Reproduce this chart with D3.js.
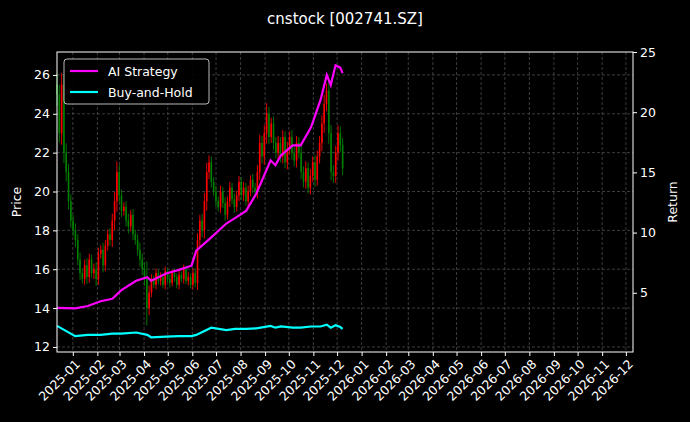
<!DOCTYPE html>
<html><head><meta charset="utf-8">
<script src="https://cdn.jsdelivr.net/npm/d3@7"></script>
<style>body{margin:0;background:#000}svg{font-family:"DejaVu Sans",sans-serif}</style>
</head><body><svg id="c" width="690" height="422"></svg>
<script>
const title = "cnstock [002741.SZ]";
const firstDay = "2024-12-12", lastDay = "2025-12-08";
const closes = [25,23,25.5,22,21,19.5,18.5,18,17.5,16.5,15.8,15.5,16.2,15.6,16.5,15.8,16,15.5,16.8,17,16.2,17.2,17.8,17.5,18.5,19.5,21,19.8,19,19.2,18.5,18.2,18.8,17.8,17.5,17,16.5,16,15.5,14,14.8,15.5,15.2,15.8,15.4,15.6,15.2,15.9,15.5,15.3,15.8,15.6,15.2,15.7,15.5,16,15.4,15.6,15.2,15.8,15.3,17.5,18.5,18,19.5,21,21.5,20.5,20,19.5,19.2,20,19.4,18.8,19.5,20.2,19.6,19.2,19.8,20.5,19.8,20.2,19.5,20,20.6,20.2,20,21,22.5,21.8,23,24,22.8,23.5,22.5,22,22.5,21.8,22.8,21.5,22.2,22.8,22,21.6,22.5,22,21,20.5,21.2,20.2,20.8,21.5,20.6,21.8,22.5,23.5,24.5,25.2,23,21,20.8,22,23,22.4,21.2];
const wicks = [1,0.8,1,0.9,0.8,0.7,0.6,0.5,0.6,0.5,0.6,0.4,0.5,0.6,0.5,0.4,0.5,0.6,0.5,0.4,0.6,0.5,0.4,0.5,0.6,0.8,0.9,0.6,0.5,0.4,0.5,0.6,0.4,0.5,0.4,0.5,0.6,0.5,0.6,1.5,0.6,0.4,0.3,0.4,0.3,0.4,0.3,0.4,0.3,0.4,0.3,0.4,0.3,0.4,0.3,0.4,0.3,0.4,0.3,0.4,0.4,0.6,0.5,0.6,0.7,0.8,0.6,0.5,0.4,0.5,0.4,0.5,0.4,0.5,0.4,0.5,0.4,0.5,0.4,0.5,0.4,0.5,0.4,0.5,0.4,0.5,0.4,0.6,0.7,0.6,0.7,0.9,0.6,0.5,0.6,0.5,0.6,0.5,0.6,0.5,0.6,0.5,0.6,0.5,0.6,0.5,0.6,0.5,0.6,0.5,0.6,0.5,0.6,0.5,0.6,0.7,0.8,0.6,0.9,0.7,0.6,0.6,0.7,0.6,0.6];
const strategyDates = ["2024-12-12","2025-01-04","2025-01-20","2025-02-05","2025-02-20","2025-03-03","2025-03-22","2025-04-05","2025-04-10","2025-04-29","2025-05-15","2025-05-31","2025-06-06","2025-06-25","2025-07-14","2025-07-25","2025-08-08","2025-08-21","2025-09-08","2025-09-14","2025-09-21","2025-10-06","2025-10-16","2025-10-29","2025-11-10","2025-11-18","2025-11-23","2025-11-29","2025-12-05","2025-12-08"];
const strategy = [3.75,3.7,3.9,4.3,4.5,5.2,6.0,6.3,6.0,6.6,6.9,7.25,8.5,9.6,10.75,11.2,11.8,13.25,16,15.6,16.4,17.25,17.25,18.75,21,23.1,22.25,23.9,23.7,23.25];
const buyHold = [2.25,1.4,1.5,1.5,1.6,1.6,1.7,1.5,1.3,1.35,1.4,1.4,1.5,2.1,1.9,2.0,2.0,2.05,2.25,2.1,2.2,2.1,2.1,2.2,2.2,2.35,2.1,2.3,2.15,2.0];
const leftTicks = [12,14,16,18,20,22,24,26];
const rightTicks = [5,10,15,20,25];
const legendLabels = ["AI Strategy","Buy-and-Hold"];

const parse = d3.timeParse("%Y-%m-%d");
const dt = d3.scaleLinear().domain([0,closes.length-1]).range([parse(firstDay).getTime(),parse(lastDay).getTime()]);
const candles = closes.map((c,i)=>{const o = i? closes[i-1] : c+0.5; return {date:new Date(dt(i)),o,c,h:Math.max(o,c)+wicks[i]*0.6,l:Math.min(o,c)-wicks[i]*0.6};});

const svg = d3.select("#c");
svg.append("rect").attr("width",690).attr("height",422).attr("fill","#000");
const L=57,R=633,T=52,B=352;
const x = d3.scaleTime().domain([parse("2024-12-12"),parse("2026-12-10")]).range([L,R]);
const y = d3.scaleLinear().domain([11.74,27.18]).range([B,T]);
const y2 = d3.scaleLinear().domain([0.08,25]).range([B,T]);
const months = d3.timeMonth.range(parse("2025-01-01"),parse("2026-12-02"));

const grid = svg.append("g").attr("stroke","#555").attr("stroke-dasharray","3,2").attr("stroke-width",0.7);
months.forEach(m=>grid.append("line").attr("x1",x(m)).attr("x2",x(m)).attr("y1",T).attr("y2",B));
leftTicks.forEach(t=>grid.append("line").attr("x1",L).attr("x2",R).attr("y1",y(t)).attr("y2",y(t)));

const cg = svg.append("g");
candles.forEach(c=>{
  const col = c.c>=c.o ? "#ff0000" : "#008000";
  cg.append("line").attr("x1",x(c.date)).attr("x2",x(c.date)).attr("y1",y(c.h)).attr("y2",y(c.l)).attr("stroke",col).attr("stroke-width",0.9);
  cg.append("rect").attr("x",x(c.date)-0.8).attr("width",1.6).attr("y",y(Math.max(c.o,c.c))).attr("height",Math.max(1,Math.abs(y(c.o)-y(c.c)))).attr("fill",col);
});
const sd = strategyDates.map(parse);
const line = vals => d3.line().x((v,i)=>x(sd[i])).y(v=>y2(v))(vals);
svg.append("path").attr("d",line(strategy)).attr("fill","none").attr("stroke","#ff00ff").attr("stroke-width",2.2);
svg.append("path").attr("d",line(buyHold)).attr("fill","none").attr("stroke","#00ffff").attr("stroke-width",2.2);

const ax = svg.append("g").attr("transform",`translate(0,${B})`).call(d3.axisBottom(x).tickValues(months).tickFormat(d3.timeFormat("%Y-%m")).tickSize(4).tickSizeOuter(0));
ax.selectAll("text").attr("transform","rotate(-45)").attr("text-anchor","end").attr("dx","-0.3em").attr("dy","0.6em");
const ay = svg.append("g").attr("transform",`translate(${L},0)`).call(d3.axisLeft(y).tickValues(leftTicks).tickSize(4).tickSizeOuter(0));
const ay2 = svg.append("g").attr("transform",`translate(${R},0)`).call(d3.axisRight(y2).tickValues(rightTicks).tickSize(4).tickSizeOuter(0));
[ax,ay,ay2].forEach(g=>{g.selectAll("text").attr("fill","#fff").attr("font-size",12.5).attr("font-family","DejaVu Sans");g.selectAll("line").attr("stroke","#fff");g.select(".domain").remove();});
svg.append("rect").attr("x",L).attr("y",T).attr("width",R-L).attr("height",B-T).attr("fill","none").attr("stroke","#fff").attr("stroke-width",1);

svg.append("text").attr("x",345).attr("y",24).attr("text-anchor","middle").attr("fill","#fff").attr("font-size",15).text(title);
svg.append("text").attr("transform","translate(21,202) rotate(-90)").attr("text-anchor","middle").attr("fill","#fff").attr("font-size",12.5).text("Price");
svg.append("text").attr("transform","translate(677,202) rotate(-90)").attr("text-anchor","middle").attr("fill","#fff").attr("font-size",12.5).text("Return");

const lg = svg.append("g");
lg.append("rect").attr("x",64).attr("y",59).attr("width",145).attr("height",45).attr("rx",3).attr("fill","#000").attr("stroke","#ccc").attr("opacity",0.9);
[["#ff00ff",0],["#00ffff",1]].forEach(([col,i])=>{
  lg.append("line").attr("x1",70).attr("x2",98).attr("y1",71+i*21).attr("y2",71+i*21).attr("stroke",col).attr("stroke-width",2.2);
  lg.append("text").attr("x",108).attr("y",75.5+i*21).attr("fill","#fff").attr("font-size",12.5).text(legendLabels[i]);
});
</script></body></html>
